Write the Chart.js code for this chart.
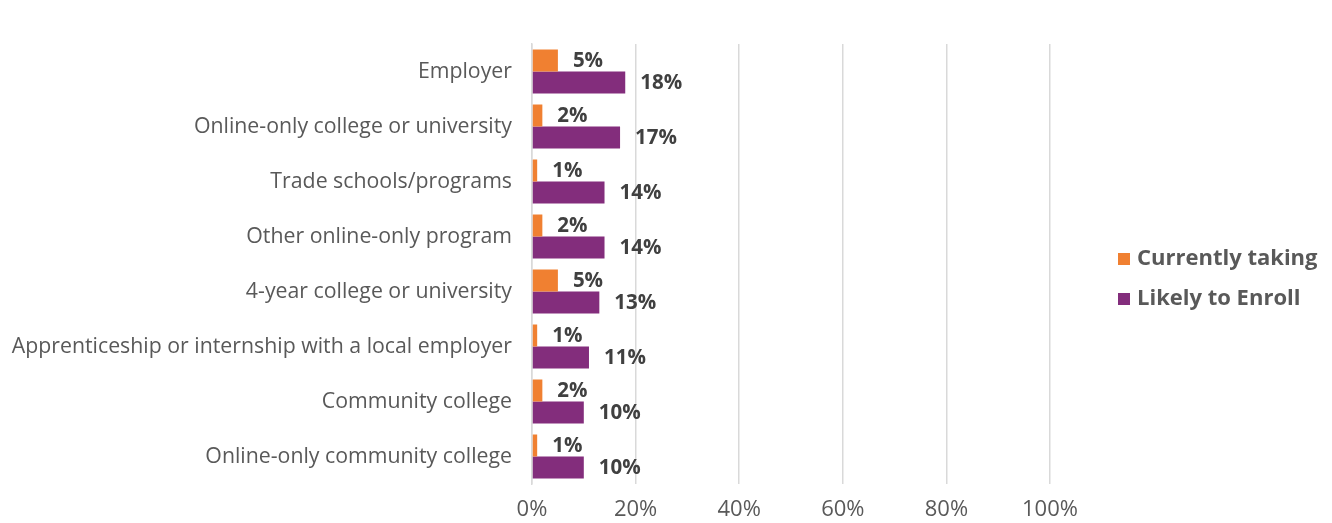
<!DOCTYPE html>
<html>
<head>
<meta charset="utf-8">
<script src="https://cdn.jsdelivr.net/npm/chart.js@4.4.0/dist/chart.umd.min.js"></script>
<style>
  body { margin: 0; background: #fff; }
  #wrap { position: relative; width: 1332px; height: 523px; }
  #legend { position: absolute; left: 1118px; top: 242px; font-family: "Open Sans", sans-serif; font-weight: bold; font-size: 22px; color: #595959; }
  #legend div { height: 40px; line-height: 28px; white-space: nowrap; }
  #legend span { display: inline-block; width: 12px; height: 12px; margin-right: 7px; vertical-align: 0px; }
</style>
</head>
<body>
<div id="wrap">
  <canvas id="chart" width="1332" height="523"></canvas>
  <div id="legend"></div>
</div>
<script>
// Data
const categories = [
    'Employer',
    'Online-only college or university',
    'Trade schools/programs',
    'Other online-only program',
    '4-year college or university',
    'Apprenticeship or internship with a local employer',
    'Community college',
    'Online-only community college'
];
const currentlyTaking = [5, 2, 1, 2, 5, 1, 2, 1];
const likelyToEnroll = [18, 17, 14, 14, 13, 11, 10, 10];
const seriesNames = ['Currently taking', 'Likely to Enroll'];
const seriesColors = ['#F08031', '#832D7C'];

const FONT = '"Open Sans", sans-serif';

// Draw value labels to the right of each bar
const valueLabels = {
    id: 'valueLabels',
    afterDatasetsDraw(chart) {
        const ctx = chart.ctx;
        ctx.save();
        ctx.font = 'bold 20.5px ' + FONT;
        ctx.fillStyle = '#404040';
        ctx.textAlign = 'left';
        ctx.textBaseline = 'middle';
        chart.data.datasets.forEach((ds, i) => {
            const meta = chart.getDatasetMeta(i);
            meta.data.forEach((bar, j) => {
                ctx.fillText(ds.data[j] + '%', bar.x + 15, bar.y + 1);
            });
        });
        ctx.restore();
    }
};

new Chart(document.getElementById('chart'), {
    type: 'bar',
    data: {
        labels: categories,
        datasets: [
            {
                label: seriesNames[0],
                data: currentlyTaking,
                backgroundColor: seriesColors[0],
                categoryPercentage: 0.8,
                barPercentage: 1.0
            },
            {
                label: seriesNames[1],
                data: likelyToEnroll,
                backgroundColor: seriesColors[1],
                categoryPercentage: 0.8,
                barPercentage: 1.0
            }
        ]
    },
    options: {
        indexAxis: 'y',
        responsive: false,
        animation: false,
        layout: { padding: { top: 44, right: 282, left: 0, bottom: 0 } },
        plugins: {
            legend: { display: false },
            tooltip: { enabled: false }
        },
        scales: {
            x: {
                min: 0,
                max: 100,
                ticks: {
                    stepSize: 20,
                    callback: v => v + '%',
                    color: '#595959',
                    font: { family: FONT, size: 22 },
                    padding: 13
                },
                grid: { color: '#d9d9d9', lineWidth: 1.5, drawTicks: false },
                border: { display: false },
                afterFit(scale) { scale.height = 39; }
            },
            y: {
                ticks: {
                    color: '#595959',
                    font: { family: FONT, size: 21.3 },
                    padding: 20
                },
                grid: { display: false, drawTicks: false },
                border: { color: '#d9d9d9', width: 1.5 },
                afterFit(scale) { scale.width = 532; }
            }
        }
    },
    plugins: [valueLabels]
});

// Legend on the right
const legend = document.getElementById('legend');
seriesNames.forEach((name, i) => {
    const row = document.createElement('div');
    row.innerHTML = `<span style="background:${seriesColors[i]}"></span>${name}`;
    legend.appendChild(row);
});
</script>
</body>
</html>
